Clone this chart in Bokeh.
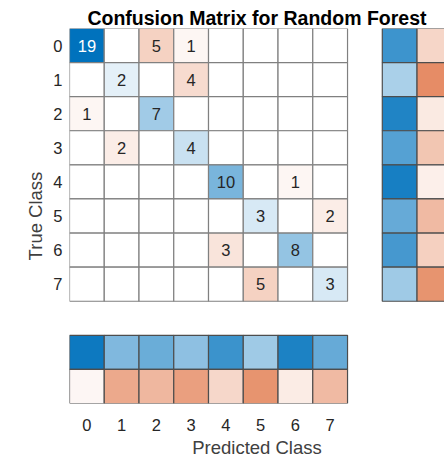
from bokeh.plotting import figure
from bokeh.models import Range1d, FixedTicker, ColumnDataSource
from bokeh.core.properties import value
from bokeh.embed import file_html
from bokeh.resources import INLINE

classes = ["0", "1", "2", "3", "4", "5", "6", "7"]
row0 = [19, 0, 5, 1, 0, 0, 0, 0]
row1 = [0, 2, 0, 4, 0, 0, 0, 0]
row2 = [1, 0, 7, 0, 0, 0, 0, 0]
row3 = [0, 2, 0, 4, 0, 0, 0, 0]
row4 = [0, 0, 0, 0, 10, 0, 1, 0]
row5 = [0, 0, 0, 0, 0, 3, 0, 2]
row6 = [0, 0, 0, 0, 3, 0, 8, 0]
row7 = [0, 0, 0, 0, 0, 5, 0, 3]
matrix = [row0, row1, row2, row3, row4, row5, row6, row7]

DIAG = (0, 114, 189)
OFF = (217, 83, 25)
FONT = "Liberation Sans"


def mix(rgb, a):
    return "#%02x%02x%02x" % tuple(int(round(255 - a * (255 - c))) for c in rgb)


n = len(classes)
vmax = max(max(r) for r in matrix)

cx, cy, cfill, tx, ty, tt, tc = [], [], [], [], [], [], []
for i in range(n):
    for j in range(n):
        v = matrix[i][j]
        a = v / vmax
        cx.append(j)
        cy.append(i)
        cfill.append(mix(DIAG if i == j else OFF, a) if v > 0 else "#ffffff")
        if v > 0:
            tx.append(j)
            ty.append(i)
            tt.append(str(v))
            tc.append("#ffffff" if a > 0.7 else "#262626")

# row summary (true-class normalised) and column summary (predicted-class normalised)
rx, ry, rfill = [], [], []
for i in range(n):
    tot = sum(matrix[i])
    frac = matrix[i][i] / tot
    rx += [n + 1, n + 2]
    ry += [i, i]
    rfill += [mix(DIAG, frac), mix(OFF, 1 - frac)]

sx, sy, sfill = [], [], []
for j in range(n):
    tot = sum(matrix[i][j] for i in range(n))
    frac = matrix[j][j] / tot
    sx += [j, j]
    sy += [n + 1, n + 2]
    sfill += [mix(DIAG, frac), mix(OFF, 1 - frac)]

p = figure(width=444, height=460,
           x_range=Range1d(-0.5, 10.29), y_range=Range1d(10.5, -0.5),
           output_backend="svg", toolbar_location=None,
           min_border_left=69, min_border_top=28, min_border_bottom=50, min_border_right=0)
p.outline_line_color = None
p.grid.visible = False
p.background_fill_color = "#ffffff"

p.title.text = "Confusion Matrix for Random Forest"
p.title.align = "center"
p.title.text_font = FONT
p.title.text_font_size = "19.5px"
p.title.text_font_style = "bold"
p.title.text_color = "#000000"
p.title.standoff = 0
p.title.offset = 0

p.rect(x="x", y="y", width=1, height=1,
       source=ColumnDataSource(dict(x=cx, y=cy, c=cfill)),
       fill_color="c", line_color="#808080", line_width=1.2)
p.rect(x="x", y="y", width=1, height=1,
       source=ColumnDataSource(dict(x=rx, y=ry, c=rfill)),
       fill_color="c", line_color="#4d4d4d", line_width=1.2)
p.rect(x="x", y="y", width=1, height=1,
       source=ColumnDataSource(dict(x=sx, y=sy, c=sfill)),
       fill_color="c", line_color="#4d4d4d", line_width=1.2)
p.text(x="x", y="y", text="t", source=ColumnDataSource(dict(x=tx, y=ty, t=tt, c=tc)),
       text_color="c", text_align="center", text_baseline="middle",
       text_font=value(FONT), text_font_size="16.5px")

ticks = list(range(n))
overrides = {k: classes[k] for k in ticks}
for ax in (p.xaxis[0], p.yaxis[0]):
    ax.ticker = FixedTicker(ticks=ticks)
    ax.major_label_overrides = overrides
    ax.axis_line_color = None
    ax.major_tick_line_color = None
    ax.minor_tick_line_color = None
    ax.major_label_text_font = FONT
    ax.major_label_text_font_size = "16.5px"
    ax.major_label_text_color = "#262626"
    ax.axis_label_text_font = FONT
    ax.axis_label_text_font_size = "18.5px"
    ax.axis_label_text_font_style = "normal"
    ax.axis_label_text_color = "#404040"

p.xaxis.axis_label = "Predicted Class"
p.yaxis.axis_label = "True Class"
p.xaxis.major_label_standoff = 9
p.xaxis.axis_label_standoff = 3
p.yaxis.major_label_standoff = 1
p.yaxis.axis_label_standoff = 4
p.yaxis.major_label_orientation = "horizontal"

open("out.html", "w").write(file_html(p, INLINE))
